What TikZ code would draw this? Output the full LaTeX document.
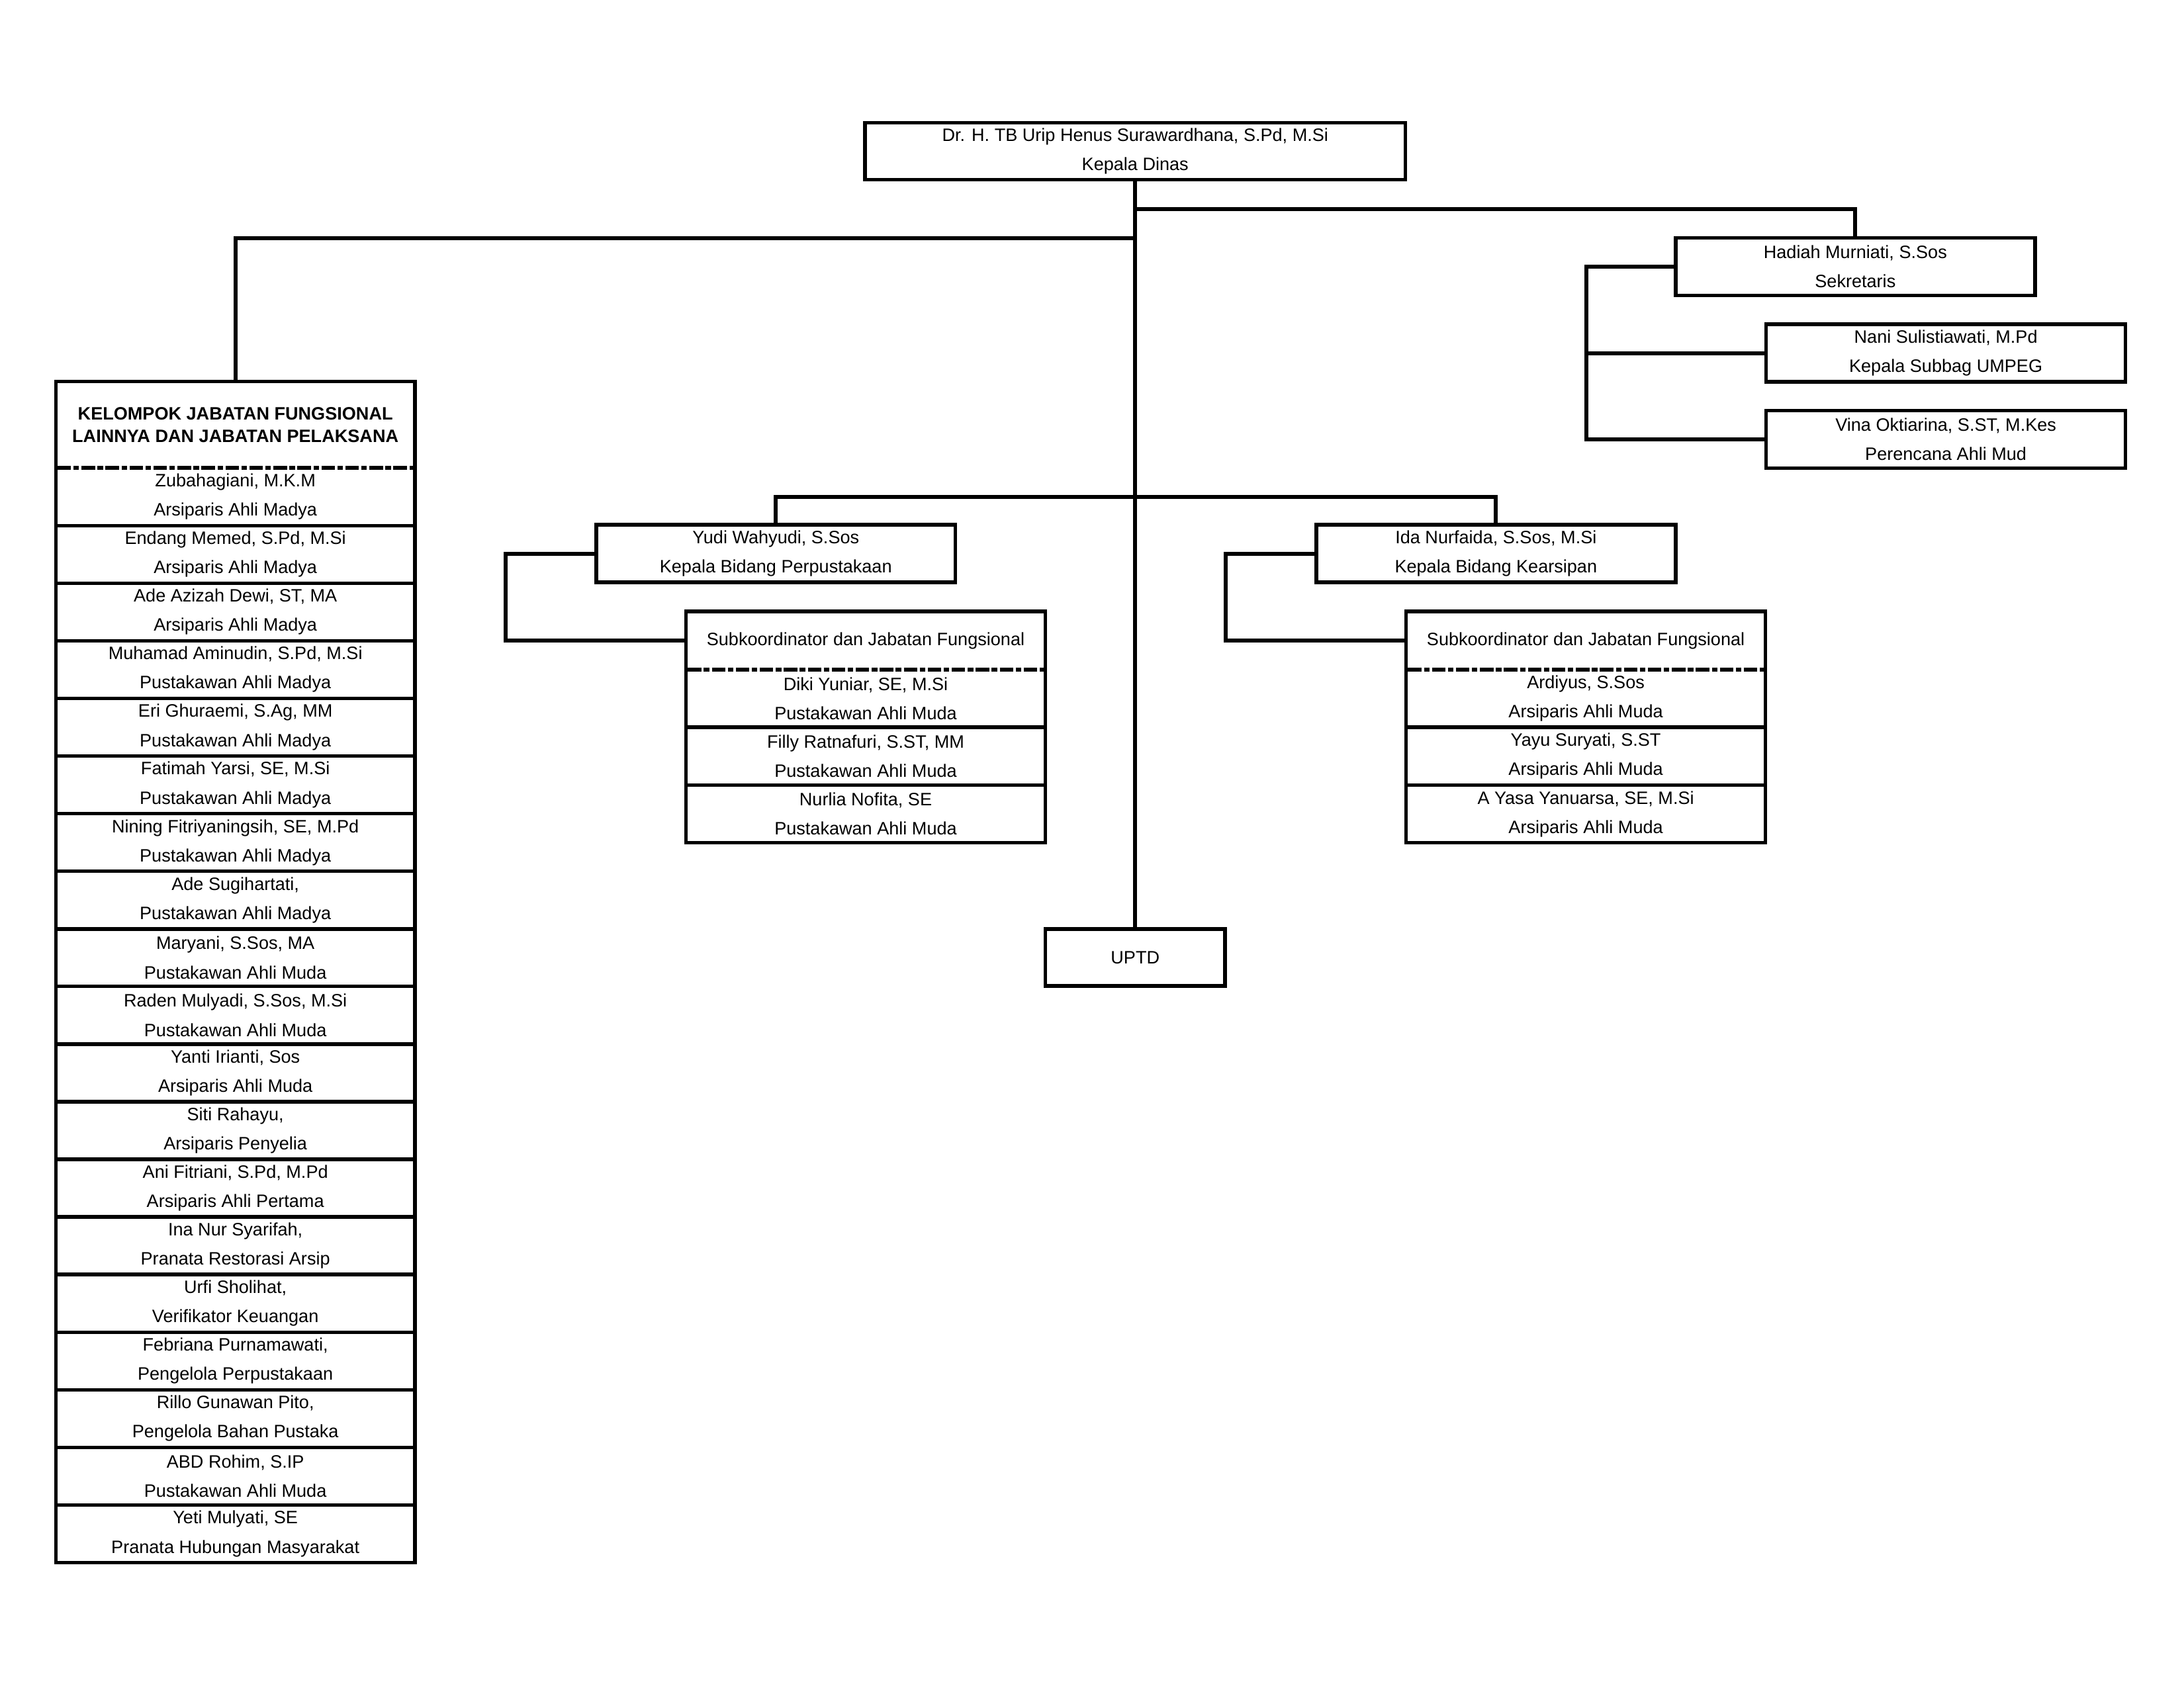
\documentclass[tikz,border=0pt]{standalone}
\usepackage{fontspec}
\setmainfont{Liberation Sans}
\begin{document}
\begin{tikzpicture}[x=0.5051pt,y=-0.5051pt,
  line width=1.3pt, line join=miter,
  box/.style={draw, line width=1.3pt, fill=white, inner sep=0pt, outer sep=0pt, align=center,
    font=\fontsize{6.5}{10.6}\selectfont, minimum width=130.3pt, minimum height=20.9pt},
  wide/.style={box, minimum width=196pt, minimum height=20.7pt},
  small/.style={box, minimum width=65.2pt, minimum height=20.7pt},
  sepline/.style={line width=1.35pt, dash pattern=on 4.9pt off 0.9pt on 2.0pt off 0.9pt},
  conn/.style={line width=1.45pt}]
\fill[white] (0,0) rectangle (1568,1212);
\useasboundingbox (0,0) rectangle (1568,1212);

% top
\node[wide] (kadis) at (815,108.5) {Dr. H. TB Urip Henus Surawardhana, S.Pd, M.Si\\Kepala Dinas};
\node[box] (sek) at (1332,191.5) {Hadiah Murniati, S.Sos\\Sekretaris};
\node[box] (nani) at (1397,253.5) {Nani Sulistiawati, M.Pd\\Kepala Subbag UMPEG};
\node[box] (vina) at (1397,315.5) {Vina Oktiarina, S.ST, M.Kes\\Perencana Ahli Mud};
\node[box] (yudi) at (557,397.5) {Yudi Wahyudi, S.Sos\\Kepala Bidang Perpustakaan};
\node[box] (ida) at (1074,397.5) {Ida Nurfaida, S.Sos, M.Si\\Kepala Bidang Kearsipan};
\node[small] (uptd) at (815,687.5) {UPTD};

% sub box left
\node[box, minimum height=21.2pt] (subL) at (621.5,460) {Subkoordinator dan Jabatan Fungsional};
\node[box] (l1) at (621.5,501.5) {Diki Yuniar, SE, M.Si\\Pustakawan Ahli Muda};
\node[box] (l2) at (621.5,543) {Filly Ratnafuri, S.ST, MM\\Pustakawan Ahli Muda};
\node[box] (l3) at (621.5,584.5) {Nurlia Nofita, SE\\Pustakawan Ahli Muda};
% sub box right
\node[box, minimum height=21.2pt] (subR) at (1138.5,460) {Subkoordinator dan Jabatan Fungsional};
\node[box] (r1) at (1138.5,501.5) {Ardiyus, S.Sos\\Arsiparis Ahli Muda};
\node[box] (r2) at (1138.5,543) {Yayu Suryati, S.ST\\Arsiparis Ahli Muda};
\node[box] (r3) at (1138.5,584.5) {A Yasa Yanuarsa, SE, M.Si\\Arsiparis Ahli Muda};

% kelompok column
\node[box, minimum height=31.3pt, font=\fontsize{6.5}{8.1}\selectfont\bfseries] (kel) at (169,305) {KELOMPOK JABATAN FUNGSIONAL\\LAINNYA DAN JABATAN PELAKSANA};
\node[box] (k1) at (169,356.7) {Zubahagiani, M.K.M\\Arsiparis Ahli Madya};
\node[box] (k2) at (169,398.1) {Endang Memed, S.Pd, M.Si\\Arsiparis Ahli Madya};
\node[box] (k3) at (169,439.4) {Ade Azizah Dewi, ST, MA\\Arsiparis Ahli Madya};
\node[box] (k4) at (169,480.8) {Muhamad Aminudin, S.Pd, M.Si\\Pustakawan Ahli Madya};
\node[box] (k5) at (169,522.2) {Eri Ghuraemi, S.Ag, MM\\Pustakawan Ahli Madya};
\node[box] (k6) at (169,563.5) {Fatimah Yarsi, SE, M.Si\\Pustakawan Ahli Madya};
\node[box] (k7) at (169,604.9) {Nining Fitriyaningsih, SE, M.Pd\\Pustakawan Ahli Madya};
\node[box] (k8) at (169,646.3) {Ade Sugihartati,\\Pustakawan Ahli Madya};
\node[box] (k9) at (169,687.7) {Maryani, S.Sos, MA\\Pustakawan Ahli Muda};
\node[box] (k10) at (169,729.0) {Raden Mulyadi, S.Sos, M.Si\\Pustakawan Ahli Muda};
\node[box] (k11) at (169,770.4) {Yanti Irianti, Sos\\Arsiparis Ahli Muda};
\node[box] (k12) at (169,811.8) {Siti Rahayu,\\Arsiparis Penyelia};
\node[box] (k13) at (169,853.1) {Ani Fitriani, S.Pd, M.Pd\\Arsiparis Ahli Pertama};
\node[box] (k14) at (169,894.5) {Ina Nur Syarifah,\\Pranata Restorasi Arsip};
\node[box] (k15) at (169,935.9) {Urfi Sholihat,\\Verifikator Keuangan};
\node[box] (k16) at (169,977.3) {Febriana Purnamawati,\\Pengelola Perpustakaan};
\node[box] (k17) at (169,1018.6) {Rillo Gunawan Pito,\\Pengelola Bahan Pustaka};
\node[box] (k18) at (169,1060.0) {ABD Rohim, S.IP\\Pustakawan Ahli Muda};
\node[box] (k19) at (169,1101.4) {Yeti Mulyati, SE\\Pranata Hubungan Masyarakat};

% dashed separators
\foreach \h in {kel,subL,subR}{
  \draw[white, line width=1.7pt] ([xshift=0.65pt]\h.south west) -- ([xshift=-0.65pt]\h.south east);
  \draw[sepline] ([xshift=0.65pt]\h.south west) -- ([xshift=-0.65pt]\h.south east);
}

% connectors
\coordinate (j1) at (815,150);
\coordinate (j2) at (815,171);
\coordinate (j3) at (815,357);
\draw[conn] (kadis.south) -- (uptd.north);
\draw[conn] (j1) -| (sek.north);
\draw[conn] (j2) -| (kel.north);
\draw[conn] (yudi.north) |- (j3) -| (ida.north);
\draw[conn] (sek.west) -- ++(-64,0) |- (vina.west);
\draw[conn] (nani.west) -- ++(-129,0);
\draw[conn] (yudi.west) -- ++(-65,0) |- (subL.west);
\draw[conn] (ida.west) -- ++(-65,0) |- (subR.west);
\end{tikzpicture}
\end{document}
